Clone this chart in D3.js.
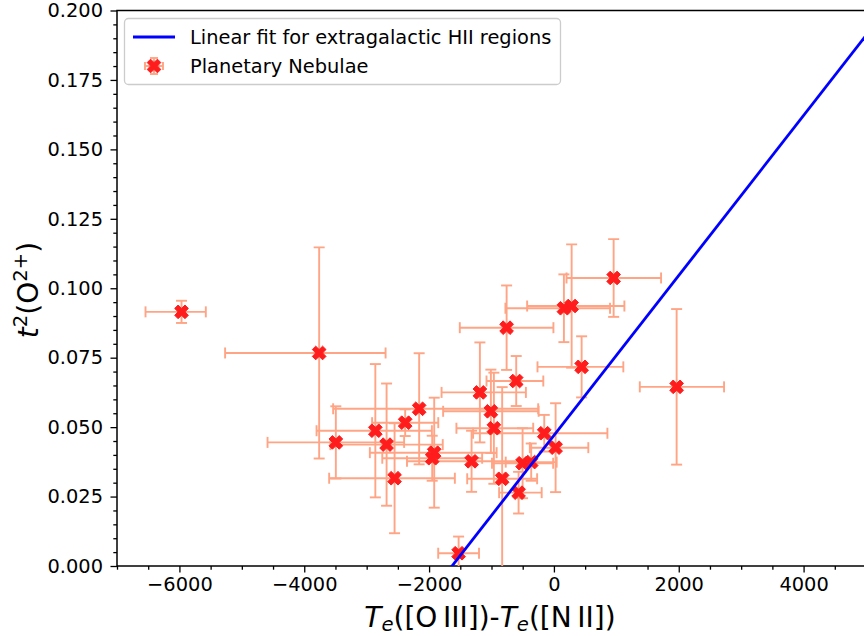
<!DOCTYPE html>
<html>
<head>
<meta charset="utf-8">
<script src="https://cdn.jsdelivr.net/npm/d3@7"></script>
<style>
  body { margin: 0; background: #fff; }
  svg { display: block; }
  text { font-family: "DejaVu Sans", sans-serif; fill: #000; }
</style>
</head>
<body>
<svg id="chart" width="864" height="636"></svg>
<script>
// Planetary nebulae: Te([O III]) - Te([N II]) (K) with asymmetric errors, and t^2(O2+)
const deltaTe        = [-5966, -3761, -3494, -2861, -2681, -2383, -2159, -2553, -1918, -1950,
                        -1319, -1186, -1010,  -962,  -829,  -758,  -604,  -566,  -502,  -364,
                         -155,    27,   160,   284,   444,   957,  1966, -1527];
const deltaTeErrLow  = [  577,  1507,  1094,   942,   900,   530,  1378,  1048,  1031,   800,
                         1035,   614,   765,   600,   560,   750,   476,   312,   490,   408,
                         1140,   413,   937,   713,   707,   755,   590,   327];
const deltaTeErrHigh = [  389,  1064,  1094,   906,   900,   530,  1907,   966,  1000,   800,
                         1035,   737,   765,   630,   560,   750,   434,   370,   490,   408,
                         1012,   524,   739,   845,   668,   760,   760,   327];
const t2             = [0.0915, 0.0767, 0.0445, 0.0487, 0.0437, 0.0516, 0.0566, 0.0316, 0.0408, 0.0388,
                        0.0377, 0.0625, 0.0557, 0.0496, 0.0314, 0.0858, 0.0666, 0.0264, 0.0370, 0.0374,
                        0.0478, 0.0426, 0.0928, 0.0936, 0.0717, 0.1037, 0.0645, 0.0046];
const t2Err          = [0.0040, 0.0380, 0.0130, 0.0240, 0.0220, 0.0048, 0.0200, 0.0198, 0.0198, 0.0081,
                        0.0110, 0.0180, 0.0150, 0.0200, 0.0330, 0.0152, 0.0090, 0.0075, 0.0126, 0.0067,
                        0.0066, 0.0160, 0.0122, 0.0222, 0.0110, 0.0140, 0.0280, 0.0060];

// Linear fit for extragalactic H II regions: t2 = slope * dTe + intercept
const fitSlope = 2.88e-5;
const fitIntercept = 0.047;
const fitRange = [-7000, 5000];

const xTicks = [-6000, -4000, -2000, 0, 2000, 4000];
const yTicks = [0, 0.025, 0.05, 0.075, 0.1, 0.125, 0.15, 0.175, 0.2];
const legendLabels = ["Linear fit for extragalactic HII regions", "Planetary Nebulae"];

const svg = d3.select("#chart");
const box = { left: 117, right: 866, top: 10.5, bottom: 566 };

const x = d3.scaleLinear().domain([-7000, 5000]).range([box.left, box.right]);
const y = d3.scaleLinear().domain([0, 0.2]).range([box.bottom, box.top]);

const ERR_COLOR = "#ffa484";
const MARK_COLOR = "#ff1c1c";
const FIT_COLOR = "#0000ff";
const CAP = 5.5;
const TICK_FONT = "19.4px";
const LABEL_FONT = "28px";

svg.append("defs").append("clipPath").attr("id", "plotClip")
  .append("rect")
  .attr("x", box.left).attr("y", box.top)
  .attr("width", box.right - box.left).attr("height", box.bottom - box.top);

// Axes: major and minor ticks
const fmtMinus = d => d3.format("d")(d).replace("-", "\u2212");
const xMinor = d3.range(-7000, 5001, 500).filter(v => v % 2000 !== 0);
const yMinor = d3.range(0, 41).map(i => i * 0.005).filter(v => Math.round(v * 1000) % 25 !== 0);

svg.append("g").attr("transform", `translate(0,${box.bottom})`)
  .call(d3.axisBottom(x).tickValues(xTicks).tickFormat(fmtMinus).tickSize(6.5).tickPadding(5));
svg.append("g").attr("transform", `translate(0,${box.bottom})`)
  .call(d3.axisBottom(x).tickValues(xMinor).tickFormat("").tickSize(3.7));
svg.append("g").attr("transform", `translate(${box.left},0)`)
  .call(d3.axisLeft(y).tickValues(yTicks).tickFormat(d3.format(".3f")).tickSize(6.5).tickPadding(7.5));
svg.append("g").attr("transform", `translate(${box.left},0)`)
  .call(d3.axisLeft(y).tickValues(yMinor).tickFormat("").tickSize(3.7));

svg.selectAll(".domain").remove();
svg.selectAll(".tick line").attr("stroke", "#000").attr("stroke-width", 1.3);
svg.selectAll(".tick text").attr("font-size", TICK_FONT).attr("font-family", "DejaVu Sans").attr("fill", "#000");

// Spines
svg.append("rect")
  .attr("x", box.left).attr("y", box.top)
  .attr("width", box.right - box.left).attr("height", box.bottom - box.top)
  .attr("fill", "none").attr("stroke", "#000").attr("stroke-width", 1.5);

// Data
const pts = deltaTe.map((v, i) => ({
  x: v, lo: deltaTeErrLow[i], hi: deltaTeErrHigh[i], y: t2[i], e: t2Err[i]
}));

const plotG = svg.append("g").attr("clip-path", "url(#plotClip)");

const errG = plotG.append("g").attr("stroke", ERR_COLOR).attr("stroke-width", 1.9).attr("fill", "none");
pts.forEach(p => {
  const cx = x(p.x), cy = y(p.y);
  const x0 = x(p.x - p.lo), x1 = x(p.x + p.hi);
  const y0 = y(p.y - p.e), y1 = y(p.y + p.e);
  errG.append("line").attr("x1", x0).attr("x2", x1).attr("y1", cy).attr("y2", cy);
  errG.append("line").attr("x1", cx).attr("x2", cx).attr("y1", y0).attr("y2", y1);
  [x0, x1].forEach(xx => errG.append("line").attr("x1", xx).attr("x2", xx).attr("y1", cy - CAP).attr("y2", cy + CAP));
  [y0, y1].forEach(yy => errG.append("line").attr("x1", cx - CAP).attr("x2", cx + CAP).attr("y1", yy).attr("y2", yy));
});

// Filled "X" marker
function xMarker(s) {
  const base = [[-1,-3],[-1,-1],[-3,-1],[-3,1],[-1,1],[-1,3],[1,3],[1,1],[3,1],[3,-1],[1,-1],[1,-3]];
  const c = Math.SQRT1_2;
  return "M" + base.map(([a, b]) => {
    const u = a / 6 * s, v = b / 6 * s;
    return [((u - v) * c).toFixed(2), ((u + v) * c).toFixed(2)].join(",");
  }).join("L") + "Z";
}
const markPath = xMarker(14.5);

plotG.append("g").selectAll("path").data(pts).join("path")
  .attr("d", markPath)
  .attr("transform", d => `translate(${x(d.x)},${y(d.y)})`)
  .attr("fill", MARK_COLOR).attr("stroke", MARK_COLOR).attr("stroke-width", 1);

// Fit line
const fitLine = d3.line().x(d => x(d)).y(d => y(fitSlope * d + fitIntercept));
plotG.append("path").datum(fitRange).attr("d", fitLine)
  .attr("fill", "none").attr("stroke", FIT_COLOR).attr("stroke-width", 2.8);

// Axis labels with math-style formatting
function addMath(t, parts) {
  parts.forEach(p => {
    const ts = t.append("tspan").text(p.t);
    if (p.i) ts.attr("font-style", "italic");
    if (p.sub) ts.attr("font-size", "0.7em").attr("dy", p.sub);
    if (p.dy) ts.attr("dy", p.dy);
  });
}
const xl = svg.append("text").attr("x", 490).attr("y", 627)
  .attr("text-anchor", "middle").attr("font-size", LABEL_FONT);
addMath(xl, [
  { t: "T", i: 1 }, { t: "e", i: 1, sub: "0.22em" }, { t: "([O\u2009III])-", dy: "-0.154em" },
  { t: "T", i: 1 }, { t: "e", i: 1, sub: "0.22em" }, { t: "([N\u2009II])", dy: "-0.154em" }
]);

const yl = svg.append("text")
  .attr("transform", `translate(38,290) rotate(-90)`)
  .attr("text-anchor", "middle").attr("font-size", LABEL_FONT);
addMath(yl, [
  { t: "t", i: 1 }, { t: "2", sub: "-0.55em" }, { t: "(O", dy: "0.385em" },
  { t: "2+", sub: "-0.55em" }, { t: ")", dy: "0.385em" }
]);

// Legend
const lg = svg.append("g");
lg.append("rect").attr("x", 124.5).attr("y", 18.5).attr("width", 436).attr("height", 66)
  .attr("rx", 4).attr("fill", "#fff").attr("fill-opacity", 0.8)
  .attr("stroke", "#cccccc").attr("stroke-width", 1.3);
lg.append("line").attr("x1", 133).attr("x2", 175).attr("y1", 37).attr("y2", 37)
  .attr("stroke", FIT_COLOR).attr("stroke-width", 2.8);
const lmx = 154, lmy = 66, lh = 9, lv = 8;
const lerr = lg.append("g").attr("stroke", ERR_COLOR).attr("stroke-width", 1.9);
lerr.append("line").attr("x1", lmx - lh).attr("x2", lmx + lh).attr("y1", lmy).attr("y2", lmy);
lerr.append("line").attr("x1", lmx).attr("x2", lmx).attr("y1", lmy - lv).attr("y2", lmy + lv);
[lmx - lh, lmx + lh].forEach(xx => lerr.append("line").attr("x1", xx).attr("x2", xx).attr("y1", lmy - 4).attr("y2", lmy + 4));
[lmy - lv, lmy + lv].forEach(yy => lerr.append("line").attr("x1", lmx - 4).attr("x2", lmx + 4).attr("y1", yy).attr("y2", yy));
lg.append("path").attr("d", markPath).attr("transform", `translate(${lmx},${lmy})`)
  .attr("fill", MARK_COLOR).attr("stroke", MARK_COLOR).attr("stroke-width", 1);
lg.selectAll("text.lab").data(legendLabels).join("text").attr("class", "lab")
  .attr("x", 190).attr("y", (d, i) => 44 + i * 29)
  .attr("font-size", TICK_FONT).text(d => d);
</script>
</body>
</html>
